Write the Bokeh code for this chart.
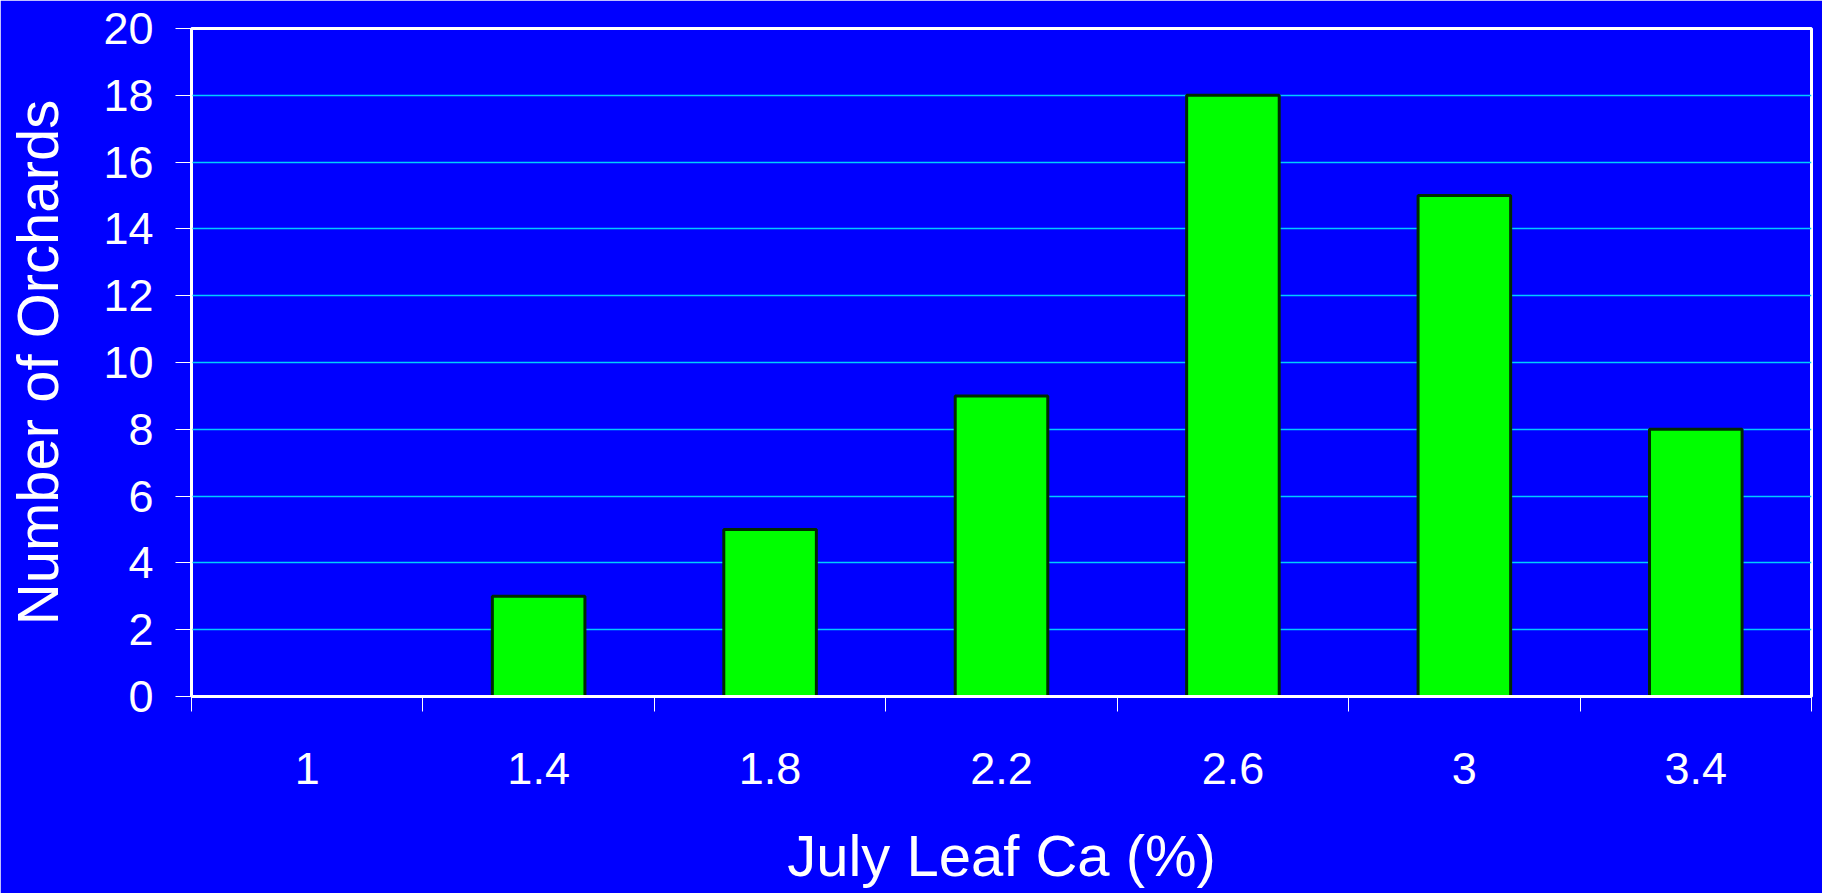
import numpy as np
from bokeh.plotting import figure
from bokeh.models import FixedTicker, Range1d, ColumnDataSource
from bokeh.embed import file_html
from bokeh.resources import INLINE

categories = ["1", "1.4", "1.8", "2.2", "2.6", "3", "3.4"]
orchards = [0, 3, 5, 9, 18, 15, 8]
y_ticks = [0, 2, 4, 6, 8, 10, 12, 14, 16, 18, 20]

n = len(categories)
centers = np.arange(n) + 0.5
src = ColumnDataSource(dict(x=centers, top=orchards))

BLUE = "#0000FF"
FONT = "Liberation Sans"

p = figure(width=1822, height=893, output_backend="svg", toolbar_location=None,
           x_range=Range1d(0, n), y_range=Range1d(0, 20),
           min_border_left=191, min_border_right=11, min_border_top=28, min_border_bottom=197)
p.background_fill_color = BLUE
p.border_fill_color = BLUE
p.outline_line_color = "white"
p.outline_line_width = 3

p.vbar(x="x", top="top", width=0.4, bottom=0, source=src,
       fill_color="#00FF00", line_color="#002A00", line_width=3)

# y axis
p.yaxis.ticker = FixedTicker(ticks=y_ticks)
p.yaxis.axis_line_color = "white"
p.yaxis.axis_line_width = 2
p.yaxis.major_tick_line_color = "white"
p.yaxis.major_tick_line_width = 1
p.yaxis.major_tick_out = 16
p.yaxis.major_tick_in = 0
p.yaxis.minor_tick_line_color = None
p.yaxis.major_label_text_color = "white"
p.yaxis.major_label_text_font = FONT
p.yaxis.major_label_text_font_size = "45px"
p.yaxis.major_label_standoff = 22
p.yaxis.axis_label = "Number of Orchards"
p.yaxis.axis_label_text_color = "white"
p.yaxis.axis_label_text_font = FONT
p.yaxis.axis_label_text_font_size = "58px"
p.yaxis.axis_label_text_font_style = "normal"
p.yaxis.axis_label_standoff = 30

# x axis
p.xaxis.ticker = FixedTicker(ticks=list(centers), minor_ticks=list(range(n + 1)))
p.xaxis.major_label_overrides = {float(c): lab for c, lab in zip(centers, categories)}
p.xaxis.axis_line_color = "white"
p.xaxis.axis_line_width = 3
p.xaxis.major_tick_line_color = None
p.xaxis.major_tick_out = 15
p.xaxis.major_tick_in = 0
p.xaxis.minor_tick_line_color = "white"
p.xaxis.minor_tick_line_width = 1
p.xaxis.minor_tick_out = 15
p.xaxis.minor_tick_in = 0
p.xaxis.major_label_text_color = "white"
p.xaxis.major_label_text_font = FONT
p.xaxis.major_label_text_font_size = "45px"
p.xaxis.major_label_standoff = 41
p.xaxis.axis_label = "July Leaf Ca (%)"
p.xaxis.axis_label_text_color = "white"
p.xaxis.axis_label_text_font = FONT
p.xaxis.axis_label_text_font_size = "58px"
p.xaxis.axis_label_text_font_style = "normal"
p.xaxis.axis_label_standoff = 36

p.xgrid.grid_line_color = None
p.ygrid.ticker = FixedTicker(ticks=y_ticks[1:-1])
p.ygrid.grid_line_color = "#00CCFF"
p.ygrid.grid_line_width = 1.5

open("out.html", "w").write(file_html(p, INLINE))
